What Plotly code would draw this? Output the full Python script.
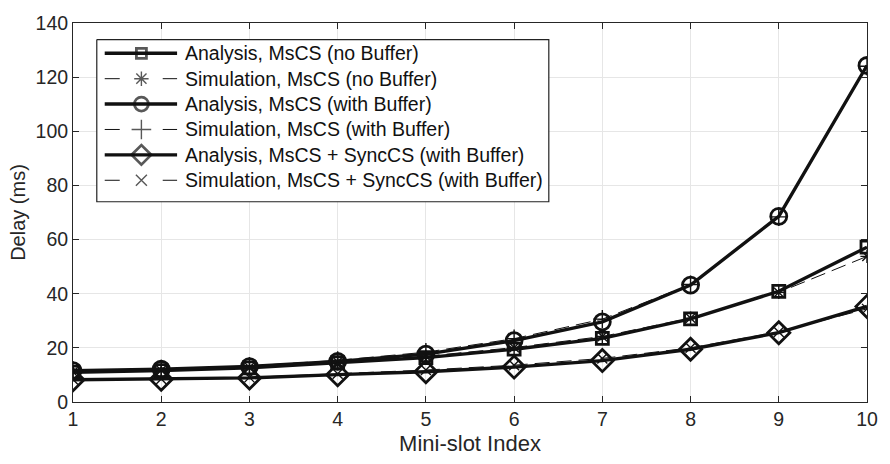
import plotly.graph_objects as go

# Mini-slot index (x axis)
mini_slot = [1, 2, 3, 4, 5, 6, 7, 8, 9, 10]

# Average delay (ms) per scheme
ana_no_buf = [11.0, 11.6, 12.6, 14.5, 16.4, 19.5, 23.5, 30.7, 40.9, 57.2]
sim_no_buf = [11.1, 11.7, 12.8, 14.8, 16.9, 20.1, 24.2, 31.0, 40.5, 53.8]
ana_buf = [11.6, 12.1, 13.1, 15.0, 17.7, 22.7, 29.6, 43.2, 68.6, 124.3]
sim_buf = [11.7, 12.2, 13.3, 15.4, 18.4, 23.4, 30.6, 43.4, 68.4, 124.0]
ana_sync = [8.2, 8.4, 8.9, 10.1, 11.2, 12.9, 15.3, 19.5, 25.6, 35.3]
sim_sync = [8.3, 8.5, 9.1, 10.4, 11.8, 13.6, 16.1, 20.0, 25.9, 34.4]

series = [
    ("Analysis, MsCS (no Buffer)", ana_no_buf, "square-open", 12, True),
    ("Simulation, MsCS (no Buffer)", sim_no_buf, "asterisk-open", 11, False),
    ("Analysis, MsCS (with Buffer)", ana_buf, "circle-open", 16, True),
    ("Simulation, MsCS (with Buffer)", sim_buf, "cross-thin-open", 13, False),
    ("Analysis, MsCS + SyncCS (with Buffer)", ana_sync, "diamond-open", 17, True),
    ("Simulation, MsCS + SyncCS (with Buffer)", sim_sync, "x-thin-open", 10, False),
]

FONT = "Liberation Sans, Arial, Helvetica, sans-serif"
INK = "#111111"

fig = go.Figure()

for name, vals, sym, size, solid in series:
    fig.add_trace(go.Scatter(
        x=mini_slot, y=vals, name=name, mode="lines+markers",
        line=dict(color=INK, width=3.4 if solid else 1.0,
                  dash="solid" if solid else "15px,7px"),
        marker=dict(symbol=sym, size=size, color=INK,
                    line=dict(color=INK, width=2.8 if solid else 1.4)),
        showlegend=False,
    ))

# Boxed legend drawn on an overlay axis measured in pixels
lx0, lx1, ly0, ly1 = 97, 553, 31, 197
row_y = [45, 71, 97, 123, 149, 175]
seg_x = [105, 142, 178]

fig.add_trace(go.Scatter(
    x=[lx0, lx1, lx1, lx0, lx0], y=[ly0, ly0, ly1, ly1, ly0],
    xaxis="x2", yaxis="y2", mode="lines", fill="toself", fillcolor="white",
    line=dict(color="#222222", width=1.2), showlegend=False, hoverinfo="skip",
))

annotations = []
for (name, vals, sym, size, solid), ry in zip(series, row_y):
    fig.add_trace(go.Scatter(
        x=seg_x, y=[ry] * 3, xaxis="x2", yaxis="y2", mode="lines+markers",
        line=dict(color=INK, width=3.4 if solid else 1.0,
                  dash="solid" if solid else "15px,43px"),
        marker=dict(symbol=sym, size=[0, size - 2 if solid else size + 1, 0], color=INK,
                    line=dict(color=INK, width=2.8 if solid else 1.4)),
        showlegend=False, hoverinfo="skip",
    ))
    annotations.append(dict(x=184, y=ry, xref="x2", yref="y2", text=name,
                            showarrow=False, xanchor="left", yanchor="middle",
                            font=dict(family=FONT, size=19.5, color="#111111")))

fig.update_layout(
    width=890, height=464,
    margin=dict(l=73, r=16, t=14, b=62),
    paper_bgcolor="white", plot_bgcolor="white",
    font=dict(family=FONT, size=19.5, color="#262626"),
    annotations=annotations,
    xaxis=dict(
        range=[1, 10], tickmode="array", tickvals=mini_slot,
        ticks="inside", ticklen=6, tickcolor="#262626", mirror="ticks",
        showline=True, linecolor="#262626", linewidth=1,
        showgrid=True, gridcolor="#e6e6e6", gridwidth=1, zeroline=False,
        title=dict(text="Mini-slot Index", font=dict(size=22), standoff=6),
        tickfont=dict(size=19.5),
    ),
    yaxis=dict(
        range=[0, 140], tickmode="array", tickvals=list(range(0, 141, 20)),
        ticks="inside", ticklen=6, tickcolor="#262626", mirror="ticks",
        showline=True, linecolor="#262626", linewidth=1,
        showgrid=True, gridcolor="#e6e6e6", gridwidth=1, zeroline=False,
        title=dict(text="Delay (ms)", font=dict(size=20), standoff=4),
        tickfont=dict(size=19.5),
    ),
    xaxis2=dict(overlaying="x", range=[73, 874], visible=False, fixedrange=True),
    yaxis2=dict(overlaying="y", range=[402, 14], visible=False, fixedrange=True),
)

fig.write_html("out.html")
